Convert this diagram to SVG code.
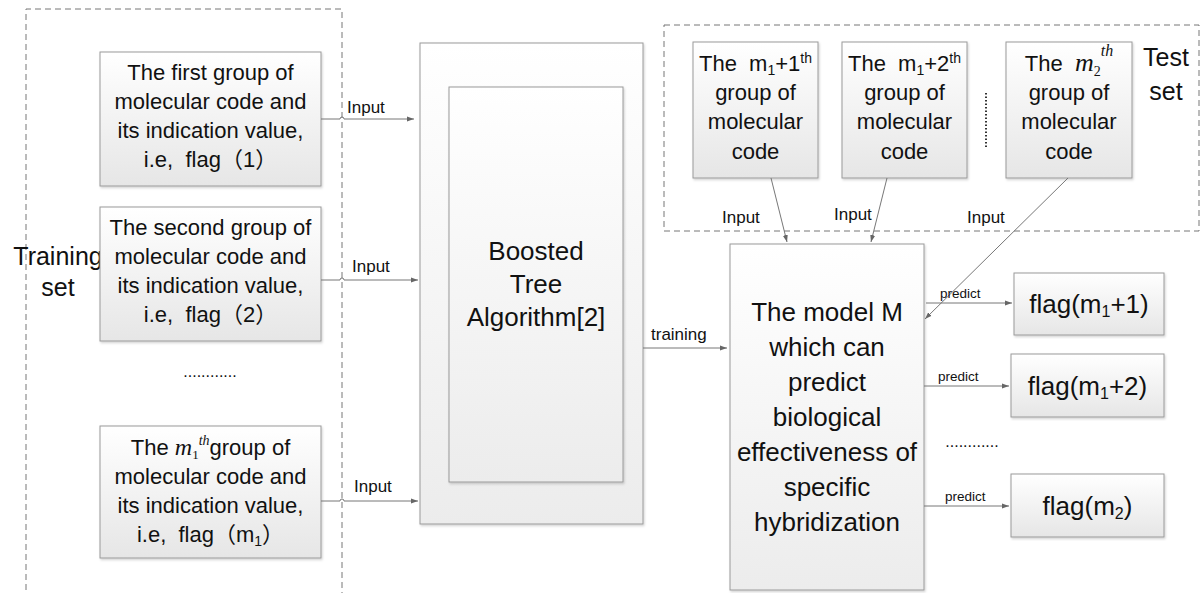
<svg xmlns="http://www.w3.org/2000/svg" width="1201" height="593" viewBox="0 0 1201 593">
<style>
text{font-family:"Liberation Sans","Noto Sans CJK SC",sans-serif;fill:#111;}
.box{stroke:#9a9a9a;stroke-width:1;fill:url(#g1);filter:url(#sh);}
.big{fill:url(#g2);stroke:#9a9a9a;stroke-width:1;filter:url(#sh);}
.dash{fill:none;stroke:#777;stroke-width:1;stroke-dasharray:6 4;}
.c{fill:none;stroke:#777;stroke-width:1;marker-end:url(#ah);}
.t22{font-size:22px;text-anchor:middle;}
.t26{font-size:26px;text-anchor:middle;}
.lbl{font-size:17px;}
.pr{font-size:13.5px;}
.it{font-family:"Liberation Serif",serif;font-style:italic;}
.sr{font-family:"Liberation Serif",serif;}
</style>
<defs>
<linearGradient id="g1" x1="0" y1="0" x2="0" y2="1"><stop offset="0" stop-color="#ffffff"/><stop offset="1" stop-color="#e6e6e6"/></linearGradient>
<linearGradient id="g2" x1="0" y1="0" x2="0" y2="1"><stop offset="0" stop-color="#ffffff"/><stop offset="1" stop-color="#ececec"/></linearGradient>
<filter id="sh" x="-5%" y="-5%" width="110%" height="110%"><feDropShadow dx="1" dy="1.5" stdDeviation="0.8" flood-color="#000" flood-opacity="0.18"/></filter>
<marker id="ah" markerUnits="userSpaceOnUse" markerWidth="8" markerHeight="6" refX="7" refY="3" orient="auto"><path d="M0,0.5 L7,3 L0,5.5 Z" fill="#666"/></marker>
</defs>
<rect width="1201" height="593" fill="#fff"/>

<g id="training-set">
<path class="dash" d="M26,600 V9 H342 V600"/>
<text x="58" y="265" font-size="25" text-anchor="middle">Training</text>
<text x="58" y="296" font-size="25" text-anchor="middle">set</text>
<text x="210" y="377" font-size="16" text-anchor="middle">............</text>
</g>

<g id="test-set">
<rect class="dash" x="664" y="25" width="535" height="206"/>
<text x="1166" y="66" font-size="25" text-anchor="middle">Test</text>
<text x="1166" y="100" font-size="25" text-anchor="middle">set</text>
<line x1="986" y1="93" x2="986" y2="148" stroke="#333" stroke-width="2" stroke-dasharray="1.5 2"/>
</g>

<g id="train1">
<rect class="box" x="100" y="52" width="221" height="134"/>
<text class="t22" x="210.5" y="80">The first group of</text>
<text class="t22" x="210.5" y="109">molecular code and</text>
<text class="t22" x="210.5" y="138">its indication value,</text>
<text class="t22" x="210.5" y="167">i.e,&#160; flag（1）</text>
</g>
<g id="train2">
<rect class="box" x="100" y="207" width="221" height="134"/>
<text class="t22" x="210.5" y="235">The second group of</text>
<text class="t22" x="210.5" y="264">molecular code and</text>
<text class="t22" x="210.5" y="293">its indication value,</text>
<text class="t22" x="210.5" y="322">i.e,&#160; flag（2）</text>
</g>
<g id="train3">
<rect class="box" x="100" y="426" width="221" height="132"/>
<text class="t22" x="210.5" y="455">The <tspan class="it" font-size="24">m</tspan><tspan class="sr" font-size="13" dy="4">1</tspan><tspan class="it" font-size="14" dy="-14">th</tspan><tspan dy="10">group of</tspan></text>
<text class="t22" x="210.5" y="484">molecular code and</text>
<text class="t22" x="210.5" y="513">its indication value,</text>
<text class="t22" x="210.5" y="542">i.e,&#160; flag（m<tspan font-size="14" dy="4">1</tspan><tspan dy="-4">）</tspan></text>
</g>

<g id="boosted">
<rect class="big" x="420" y="43" width="223" height="481"/>
<rect class="big" x="449" y="87" width="174" height="395"/>
<text class="t26" x="536" y="260">Boosted</text>
<text class="t26" x="536" y="293">Tree</text>
<text class="t26" x="536" y="326">Algorithm[2]</text>
</g>

<g id="test1">
<rect class="box" x="693" y="42" width="125" height="136"/>
<text class="t22" x="755.5" y="71">The&#160; m<tspan font-size="14" dy="4">1</tspan><tspan dy="-4">+1</tspan><tspan font-size="14" dy="-8">th</tspan></text>
<text class="t22" x="755.5" y="100">group of</text>
<text class="t22" x="755.5" y="129">molecular</text>
<text class="t22" x="755.5" y="159">code</text>
</g>
<g id="test2">
<rect class="box" x="842" y="42" width="125" height="136"/>
<text class="t22" x="904.5" y="71">The&#160; m<tspan font-size="14" dy="4">1</tspan><tspan dy="-4">+2</tspan><tspan font-size="14" dy="-8">th</tspan></text>
<text class="t22" x="904.5" y="100">group of</text>
<text class="t22" x="904.5" y="129">molecular</text>
<text class="t22" x="904.5" y="159">code</text>
</g>
<g id="test3">
<rect class="box" x="1006" y="42" width="126" height="136"/>
<text class="t22" x="1069" y="71">The&#160; <tspan class="it" font-size="26">m</tspan><tspan class="sr" font-size="14" dy="5">2</tspan><tspan class="it" font-size="16" dy="-20">th</tspan></text>
<text class="t22" x="1069" y="100">group of</text>
<text class="t22" x="1069" y="129">molecular</text>
<text class="t22" x="1069" y="159">code</text>
</g>

<g id="model">
<rect class="big" x="730" y="244" width="194" height="346"/>
<text class="t26" x="827" y="321">The model M</text>
<text class="t26" x="827" y="356">which can</text>
<text class="t26" x="827" y="391">predict</text>
<text class="t26" x="827" y="426">biological</text>
<text class="t26" x="827" y="461">effectiveness of</text>
<text class="t26" x="827" y="496">specific</text>
<text class="t26" x="827" y="531">hybridization</text>
</g>

<g id="flag1">
<rect class="box" x="1014" y="273" width="150" height="62"/>
<text class="t26" x="1089" y="313">flag(m<tspan font-size="16" dy="4">1</tspan><tspan dy="-4">+1)</tspan></text>
</g>
<g id="flag2">
<rect class="box" x="1011" y="354" width="153" height="63"/>
<text class="t26" x="1087.5" y="395">flag(m<tspan font-size="16" dy="4">1</tspan><tspan dy="-4">+2)</tspan></text>
</g>
<g id="flag3">
<rect class="box" x="1011" y="474" width="153" height="63"/>
<text class="t26" x="1087.5" y="515">flag(m<tspan font-size="16" dy="4">2</tspan><tspan dy="-4">)</tspan></text>
</g>
<text x="972" y="447" font-size="16" text-anchor="middle">............</text>

<g id="connectors">
<path class="c" d="M321,119 H340 A2,2 0 0 1 344,119 H414"/>
<path class="c" d="M321,280 H340 A2,2 0 0 1 344,280 H418"/>
<path class="c" d="M321,501 H340 A2,2 0 0 1 344,501 H418"/>
<path class="c" d="M643,348 H727"/>
<path class="c" d="M771,178 L787,242"/>
<path class="c" d="M887,178 L871,242"/>
<path class="c" d="M1068,178 L925,319"/>
<path class="c" d="M926,303 H1012"/>
<path class="c" d="M924,386 H1009"/>
<path class="c" d="M924,506 H1009"/>
<text class="lbl" x="347" y="113">Input</text>
<text class="lbl" x="352" y="272">Input</text>
<text class="lbl" x="354" y="492">Input</text>
<text class="lbl" x="651" y="340">training</text>
<text class="lbl" x="722" y="223">Input</text>
<text class="lbl" x="834" y="220">Input</text>
<text class="lbl" x="967" y="223">Input</text>
<text class="pr" x="940" y="298">predict</text>
<text class="pr" x="938" y="381">predict</text>
<text class="pr" x="945" y="501">predict</text>
</g>
</svg>
